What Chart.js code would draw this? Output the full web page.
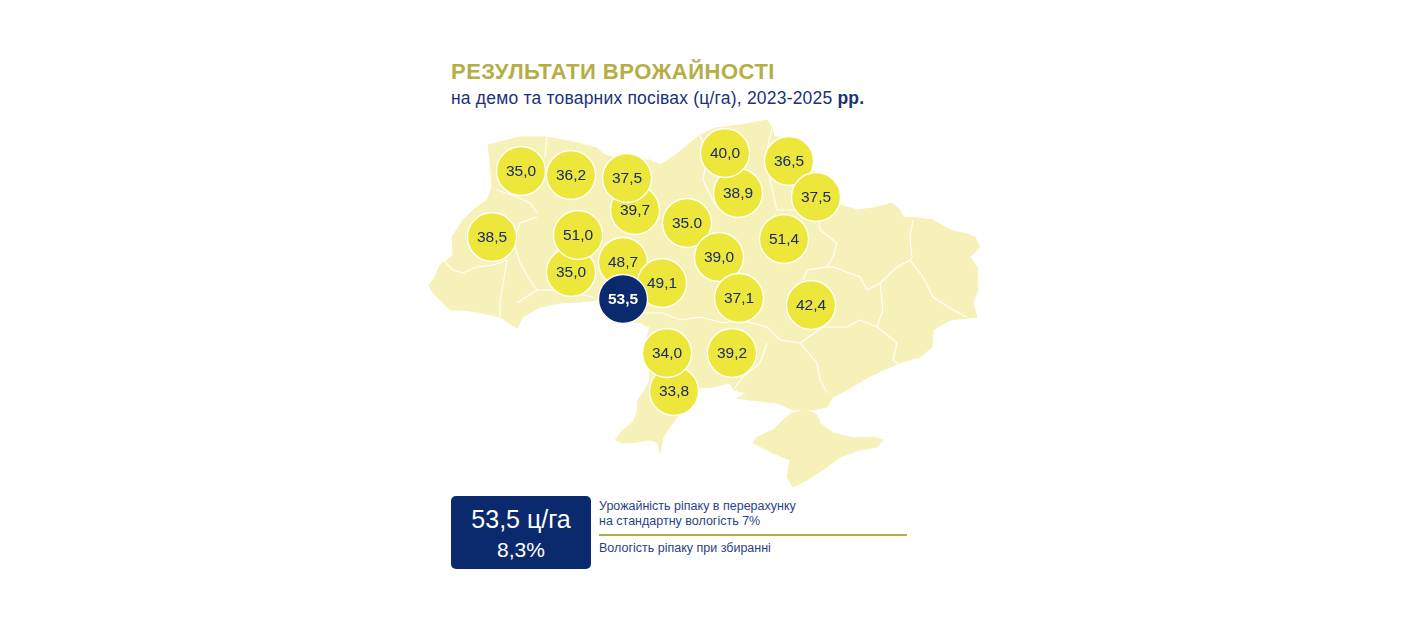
<!DOCTYPE html>
<html lang="uk">
<head>
<meta charset="utf-8">
<title>Результати врожайності</title>
<script src="https://cdn.jsdelivr.net/npm/chart.js@4.4.1/dist/chart.umd.min.js"></script>
<style>
  html, body { margin: 0; padding: 0; background: #ffffff; }
  body { width: 1416px; height: 624px; position: relative; overflow: hidden;
         font-family: "Liberation Sans", Arial, Helvetica, sans-serif; }
  #title { position: absolute; left: 451px; top: 59px; font-size: 22px; font-weight: bold;
           color: #b5ad45; letter-spacing: 0.5px; white-space: nowrap; }
  #subtitle { position: absolute; left: 451px; top: 88px; font-size: 17.5px; letter-spacing: 0.2px;
              color: #1b3277; white-space: nowrap; }
  #subtitle b { font-weight: bold; }
  #map-box { position: absolute; left: 425px; top: 110px; width: 560px; height: 385px; }
  #badge { position: absolute; left: 451px; top: 496px; width: 140px; height: 73px;
           background: #0b2a6e; border-radius: 5px; color: #fff; text-align: center; }
  #badge .big { font-size: 25px; margin-top: 9px; line-height: 28px; }
  #badge .small { font-size: 21px; margin-top: 5px; line-height: 24px; }
  #notes { position: absolute; left: 599px; top: 499px; width: 310px; color: #2c3f86;
           font-size: 12.5px; line-height: 14.5px; }
  #notes .rule { height: 2px; background: #b3ab45; margin: 6px 0 5px 0; width: 308px; }
</style>
</head>
<body>
<div id="title">РЕЗУЛЬТАТИ ВРОЖАЙНОСТІ</div>
<div id="subtitle">на демо та товарних посівах (ц/га), 2023-2025 <b>рр.</b></div>
<div id="map-box"><canvas id="map-canvas" width="560" height="385"></canvas></div>
<div id="badge"><div class="big">53,5 ц/га</div><div class="small">8,3%</div></div>
<div id="notes">
  <div>Урожайність ріпаку в перерахунку<br>на стандартну вологість 7%</div>
  <div class="rule"></div>
  <div>Вологість ріпаку при збиранні</div>
</div>

<script>
// ********************** Data ********************** //
// point order = drawing order (later ones sit on top)
const regions = ['Волинська', 'Рівненська', 'Житомирська (пд)', 'Житомирська (пн)', 'Львівська',
                 'Тернопільська', 'Хмельницька', 'Вінницька (пн)', 'Вінницька (сх)', 'Вінницька',
                 'Київська', 'Черкаська', 'Чернігівська (пд)', 'Чернігівська (пн)', 'Сумська (пн)',
                 'Сумська (пд)', 'Полтавська', 'Кіровоградська', 'Дніпропетровська', 'Одеська (пд)',
                 'Одеська (пн)', 'Миколаївська'];
const yieldLabels = ['35,0', '36,2', '39,7', '37,5', '38,5',
                     '35,0', '51,0', '48,7', '49,1', '53,5',
                     '35.0', '39,0', '38,9', '40,0', '36,5',
                     '37,5', '51,4', '37,1', '42,4', '33,8',
                     '34,0', '39,2'];
const yieldValues = [35.0, 36.2, 39.7, 37.5, 38.5,
                     35.0, 51.0, 48.7, 49.1, 53.5,
                     35.0, 39.0, 38.9, 40.0, 36.5,
                     37.5, 51.4, 37.1, 42.4, 33.8,
                     34.0, 39.2];
// region positions on the map grid (x east, y south)
const mapX = [96, 146, 210, 202, 67, 146, 153, 198, 237, 198, 262, 294, 313, 300, 364, 391, 359, 314, 386, 249, 242, 307];
const mapY = [61, 65, 100, 68, 127, 162, 125, 152, 173, 189, 113, 147, 83, 43, 51, 87, 129, 188, 195, 281, 243, 243];

// mainland outline on the same grid
const outlineX = [4, 10, 15, 22, 28, 27, 38, 48, 62, 67, 65, 63, 75, 95, 122, 148, 172, 180, 200, 225, 235, 248, 265, 275,
                  290, 315, 332, 342, 347, 350, 355, 375, 387, 410, 415, 422, 432, 448, 467, 475, 478, 492, 508, 525,
                  542, 550, 555, 545, 552, 553, 548, 552, 525, 508, 507, 495, 475, 458, 442, 422, 408, 402, 388, 368,
                  352, 325, 312, 322, 308, 305, 288, 275, 262, 255, 245, 238, 235, 233, 225, 212, 198, 190, 198, 208,
                  212, 213, 218, 225, 222, 225, 213, 195, 172, 155, 135, 115, 98, 92, 87, 75, 52, 38, 25, 17, 8, 4];
const outlineY = [175, 167, 155, 150, 145, 127, 110, 100, 90, 77, 50, 35, 32, 27, 27, 32, 38, 45, 50, 50, 55, 47, 33, 25,
                  18, 15, 12, 10, 18, 27, 27, 40, 60, 75, 95, 97, 100, 98, 93, 100, 107, 108, 110, 120,
                  124, 127, 137, 147, 157, 180, 193, 207, 210, 220, 237, 247, 253, 260, 268, 280, 287, 297, 300, 300,
                  293, 290, 288, 283, 280, 273, 277, 278, 290, 303, 317, 327, 343, 333, 330, 332, 333, 330, 320, 312,
                  303, 290, 283, 270, 227, 217, 212, 212, 190, 192, 193, 197, 207, 218, 215, 207, 202, 200, 200, 192, 183, 175];
const crimeaX = [367, 382, 392, 395, 408, 428, 448, 458, 452, 435, 415, 402, 382, 368, 362, 365, 348, 328, 332, 348, 358, 367];
const crimeaY = [303, 300, 305, 313, 323, 328, 327, 330, 337, 340, 347, 357, 370, 377, 367, 350, 343, 333, 327, 320, 310, 303];

// oblast borders (white lines)
const borderLines = [
  [[392, 100], [395, 120], [412, 133], [408, 147], [402, 157], [382, 160], [378, 170]],
  [[402, 157], [408, 157], [435, 167], [442, 180], [455, 173], [472, 157], [485, 150]],
  [[488, 110], [485, 127], [487, 147], [485, 150]],
  [[485, 150], [498, 167], [508, 187], [528, 200], [542, 207]],
  [[455, 173], [458, 200], [452, 217]],
  [[452, 217], [465, 227], [472, 233], [468, 250], [475, 255]],
  [[398, 217], [422, 217], [435, 210], [452, 217]],
  [[375, 233], [392, 253], [395, 270], [402, 283]],
  [[342, 217], [355, 230], [375, 233], [398, 217]],
  [[342, 233], [335, 253], [318, 267], [308, 280]],
  [[218, 203], [238, 203], [255, 210], [275, 207], [298, 213], [315, 210], [342, 217]],
  [[20, 152], [28, 160], [38, 163], [52, 157], [68, 155], [82, 150]],
  [[82, 150], [78, 175], [75, 190], [75, 207]],
  [[92, 193], [112, 180], [135, 180], [168, 187]],
  [[88, 130], [95, 153], [105, 170], [112, 180]],
  [[72, 80], [92, 87], [105, 93], [112, 103]],
  [[88, 133], [95, 113], [112, 107]],
  [[122, 27], [120, 47]],
  [[275, 25], [282, 45], [278, 70], [290, 95]],
  [[347, 18], [342, 40], [345, 70], [352, 100], [392, 100]]
];

// ********************** Colours ********************** //
const mapFill = '#f5f1b8';
const bubbleYellow = '#ece73a';
const bubbleNavy = '#0b2a6e';
const textNavy = '#1c2b63';
const maxYield = Math.max(...yieldValues);

function toPoints(xs, ys) {
  return xs.map((x, i) => ({ x: x, y: ys[i] }));
}

// ********************** Labels plugin ********************** //
const bubbleLabels = {
  id: 'bubbleLabels',
  afterDatasetsDraw(chart) {
    const ctx = chart.ctx;
    const meta = chart.getDatasetMeta(0);
    ctx.save();
    ctx.textAlign = 'center';
    ctx.textBaseline = 'middle';
    meta.data.forEach((el, i) => {
      const top = yieldValues[i] === maxYield;
      ctx.font = (top ? 'bold ' : '') + '15.5px "Liberation Sans", Arial, sans-serif';
      ctx.fillStyle = top ? '#ffffff' : textNavy;
      ctx.fillText(yieldLabels[i], el.x, el.y + 1);
    });
    ctx.restore();
  }
};

// ********************** Chart ********************** //
const datasets = [{
  type: 'bubble',
  label: 'Урожайність, ц/га',
  data: toPoints(mapX, mapY),
  radius: 24.5,
  backgroundColor: (c) => yieldValues[c.dataIndex] === maxYield ? bubbleNavy : bubbleYellow,
  borderColor: '#ffffff',
  borderWidth: 1.3,
  clip: false,
  order: 1
}];

borderLines.forEach((line) => {
  datasets.push({
    type: 'line',
    data: line.map((p) => ({ x: p[0], y: p[1] })),
    borderColor: '#ffffff',
    borderWidth: 1.1,
    pointRadius: 0,
    fill: false,
    tension: 0,
    clip: false,
    order: 2
  });
});

[[outlineX, outlineY], [crimeaX, crimeaY]].forEach((shape) => {
  datasets.push({
    type: 'line',
    data: toPoints(shape[0], shape[1]),
    borderColor: mapFill,
    backgroundColor: mapFill,
    borderWidth: 1,
    pointRadius: 0,
    fill: 'shape',
    tension: 0,
    clip: false,
    order: 3
  });
});

const mapChart = new Chart(document.getElementById('map-canvas'), {
  type: 'bubble',
  data: { datasets: datasets },
  options: {
    responsive: false,
    animation: false,
    events: [],
    layout: { padding: 0, autoPadding: false },
    plugins: { legend: { display: false }, tooltip: { enabled: false } },
    scales: {
      x: { type: 'linear', min: 0, max: 560, display: false },
      y: { type: 'linear', min: 0, max: 385, reverse: true, display: false }
    }
  },
  plugins: [bubbleLabels]
});
</script>
</body>
</html>
